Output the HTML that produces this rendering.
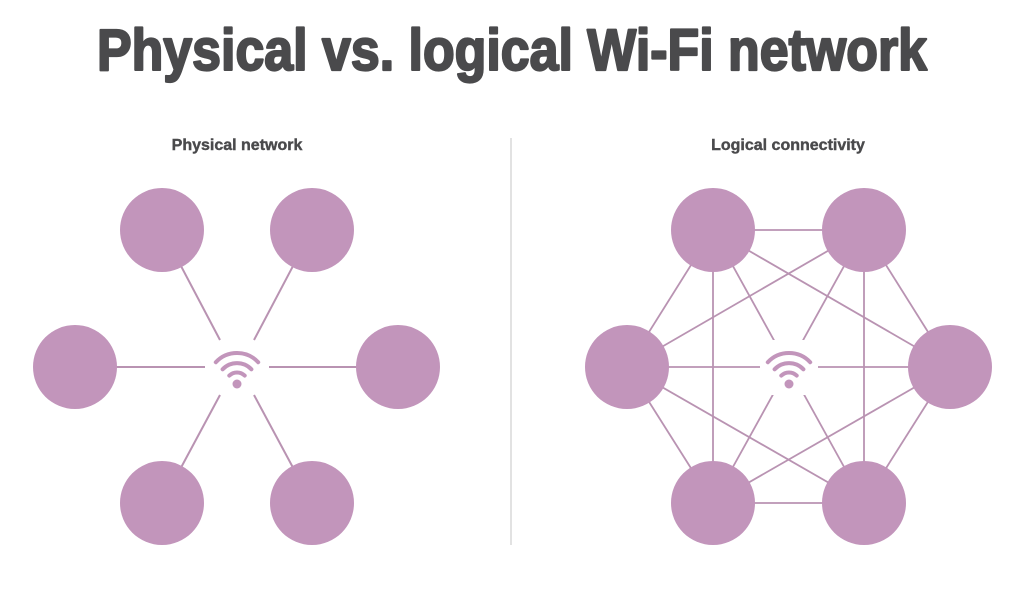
<!DOCTYPE html>
<html><head><style>html,body{margin:0;padding:0;background:#fff;}</style></head>
<body>
<svg width="1024" height="602" viewBox="0 0 1024 602" xmlns="http://www.w3.org/2000/svg">
<text x="97" y="70" font-family="Liberation Sans, sans-serif" font-weight="bold" font-size="58" fill="#4a4a4c" stroke="#4a4a4c" stroke-width="2.2" stroke-linejoin="round" textLength="830" lengthAdjust="spacingAndGlyphs">Physical vs. logical Wi-Fi network</text>
<text x="237" y="150" text-anchor="middle" font-family="Liberation Sans, sans-serif" font-weight="bold" font-size="16" fill="#4a4a4c" stroke="#4a4a4c" stroke-width="0.4">Physical network</text>
<text x="788" y="150" text-anchor="middle" font-family="Liberation Sans, sans-serif" font-weight="bold" font-size="16" fill="#4a4a4c" stroke="#4a4a4c" stroke-width="0.4">Logical connectivity</text>
<line x1="511" y1="138" x2="511" y2="545" stroke="#d8d8d8" stroke-width="1.5"/>
<g stroke="#b993b2" stroke-width="2">
<line x1="162" y1="230" x2="220" y2="340"/><line x1="312" y1="230" x2="254" y2="340"/>
<line x1="75" y1="367" x2="205" y2="367"/><line x1="269" y1="367" x2="398" y2="367"/>
<line x1="162" y1="503" x2="220" y2="395"/><line x1="312" y1="503" x2="254" y2="395"/>
</g>
<g stroke="#b993b2" stroke-width="1.8">
<line x1="713" y1="230" x2="864" y2="230"/><line x1="713" y1="230" x2="627" y2="367"/><line x1="713" y1="230" x2="950" y2="367"/><line x1="713" y1="230" x2="713" y2="503"/><line x1="713" y1="230" x2="864" y2="503"/>
<line x1="864" y1="230" x2="627" y2="367"/><line x1="864" y1="230" x2="950" y2="367"/><line x1="864" y1="230" x2="713" y2="503"/><line x1="864" y1="230" x2="864" y2="503"/>
<line x1="627" y1="367" x2="950" y2="367"/><line x1="627" y1="367" x2="713" y2="503"/><line x1="627" y1="367" x2="864" y2="503"/>
<line x1="950" y1="367" x2="713" y2="503"/><line x1="950" y1="367" x2="864" y2="503"/>
<line x1="713" y1="503" x2="864" y2="503"/>
</g>
<rect x="760" y="340" width="58" height="55" fill="#fff"/>
<g fill="#c295bb">
<circle cx="162" cy="230" r="42"/><circle cx="312" cy="230" r="42"/><circle cx="75" cy="367" r="42"/><circle cx="398" cy="367" r="42"/><circle cx="162" cy="503" r="42"/><circle cx="312" cy="503" r="42"/>
<circle cx="713" cy="230" r="42"/><circle cx="864" cy="230" r="42"/><circle cx="627" cy="367" r="42"/><circle cx="950" cy="367" r="42"/><circle cx="713" cy="503" r="42"/><circle cx="864" cy="503" r="42"/>
</g>
<g fill="none" stroke="#c295bb" stroke-width="4" stroke-linecap="round">
<path d="M229.3 375.6 A11 11 0 0 1 244.7 375.6"/>
<path d="M222.6 369.3 A20 20 0 0 1 251.4 369.3"/>
<path d="M215.8 362.2 A29 29 0 0 1 258.2 362.2"/>
<circle cx="237" cy="384" r="4.5" fill="#c295bb" stroke="none"/>
</g>
<g fill="none" stroke="#c295bb" stroke-width="4" stroke-linecap="round" transform="translate(552,0)">
<path d="M229.3 375.6 A11 11 0 0 1 244.7 375.6"/>
<path d="M222.6 369.3 A20 20 0 0 1 251.4 369.3"/>
<path d="M215.8 362.2 A29 29 0 0 1 258.2 362.2"/>
<circle cx="237" cy="384" r="4.5" fill="#c295bb" stroke="none"/>
</g>
</svg>
</body></html>
